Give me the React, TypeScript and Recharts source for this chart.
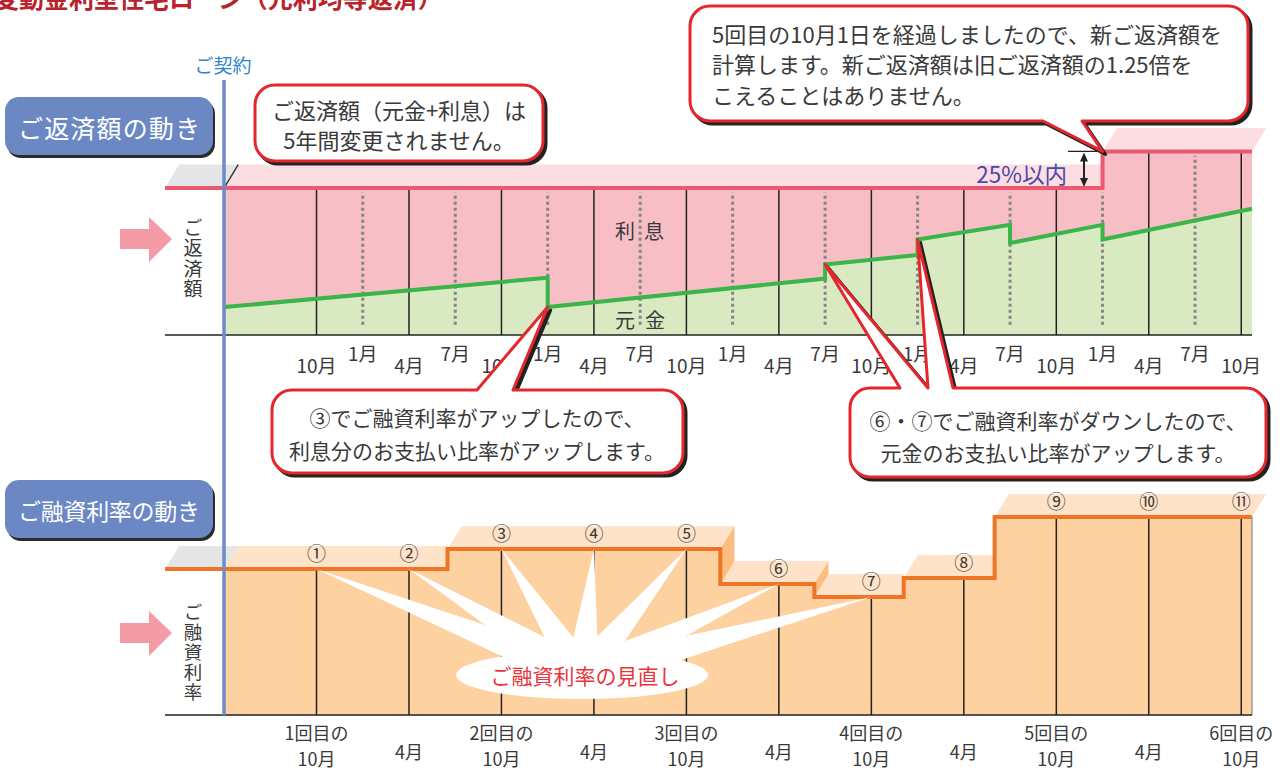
import React from "react";
import { ComposedChart, Area, Line, XAxis, YAxis, ReferenceLine, ReferenceDot } from "recharts";

const FONT = '"Noto Sans CJK JP", "Noto Sans", sans-serif';
const INK = "#3a3a3a";

// months counted from the contract (contract month = April)
const SPAN_START = -3.83;
const SPAN_END = 66.7;

// top axis: every 3 months
const QUARTER_MONTH = [6, 9, 12, 15, 18, 21, 24, 27, 30, 33, 36, 39, 42, 45, 48, 51, 54, 57, 60, 63, 66];
const QUARTER_LABEL = [
  "10月", "1月", "4月", "7月", "10月", "1月", "4月", "7月", "10月", "1月", "4月",
  "7月", "10月", "1月", "4月", "7月", "10月", "1月", "4月", "7月", "10月",
];

// rate reviews (April / October)
const REVIEW_MONTH = [6, 12, 18, 24, 30, 36, 42, 48, 54, 60, 66];
const REVIEW_MARK = ["①", "②", "③", "④", "⑤", "⑥", "⑦", "⑧", "⑨", "⑩", "⑪"];
const REVIEW_LABEL = [
  ["1回目の", "10月"], ["4月"], ["2回目の", "10月"], ["4月"], ["3回目の", "10月"], ["4月"],
  ["4回目の", "10月"], ["4月"], ["5回目の", "10月"], ["4月"], ["6回目の", "10月"],
];

// loan rate (%), stepped
const RATE_CHANGE_MONTH = [14.5, 32.2, 38.3, 44.1, 50.0];
const RATE_LEVEL = [1.46, 1.66, 1.31, 1.18, 1.37, 1.98];

// repayment amount (index, first 5 years = 100)
const PAY_CHANGE_MONTH = [57];
const PAY_LEVEL = [100, 125];

// principal part of the repayment
const PRINCIPAL_MONTH = [0, 21, 21, 39, 39, 45, 45, 51, 51, 57, 57, 66.7];
const PRINCIPAL_VALUE = [19, 39, 19, 38.4, 48, 54.5, 65, 75, 62.6, 75, 65, 86];

// ---- geometry of the two plots ----
const W = 1283;
const M_LEFT = 165;
const M_RIGHT = 14;
const X_MIN = -3.83;
const X_MAX = 67.8;
const TOP_T = 75;
const TOP_B = 335;
const BOT_T = 335;
const BOT_B = 715;
const PAY_MAX = 177;
const RATE_MAX = 3.8;
const SLANT = 0.92; // months, slant of the 3D top faces
const PAY_FACE = 16;
const RATE_FACE = 0.23;

const xPx = (m: number) => M_LEFT + ((m - X_MIN) / (X_MAX - X_MIN)) * (W - M_LEFT - M_RIGHT);
const payPx = (v: number) => TOP_B - (v / PAY_MAX) * (TOP_B - TOP_T);
const ratePx = (v: number) => BOT_B - (v / RATE_MAX) * (BOT_B - BOT_T);

function levelAt(m: number, changes: number[], levels: number[]) {
  let i = 0;
  while (i < changes.length && m >= changes[i]) i++;
  return levels[i];
}
const rateAt = (m: number) => levelAt(m, RATE_CHANGE_MONTH, RATE_LEVEL);
const payAt = (m: number) => levelAt(m, PAY_CHANGE_MONTH, PAY_LEVEL);

function stepPoints(from: number, to: number, changes: number[], levels: number[]) {
  const pts = [{ m: from, v: levelAt(from, changes, levels) }];
  changes.forEach((c, i) => {
    if (c > from && c < to) pts.push({ m: c, v: levels[i] }, { m: c, v: levels[i + 1] });
  });
  pts.push({ m: to, v: levelAt(to, changes, levels) });
  return pts;
}

function buildFaces(changes: number[], levels: number[], face: number) {
  const bounds = [0, ...changes, SPAN_END];
  const l0 = levels[0];
  const lead = [
    { m: SPAN_START, r: [l0, l0] },
    { m: SPAN_START + SLANT, r: [l0, l0 + face] },
    { m: 0, r: [l0, l0 + face] },
    { m: SLANT, r: [l0 + face, l0 + face] },
  ];
  const tops = levels.map((r, i) => {
    const a = bounds[i];
    const b = bounds[i + 1];
    const prev = levels[i - 1];
    const next = levels[i + 1];
    const pts: { m: number; r: number[] }[] = [];
    if (i === 0 || prev < r) pts.push({ m: a, r: [r, r] }, { m: a + SLANT, r: [r, r + face] });
    else pts.push({ m: a, r: [r, r + face] });
    if (next === undefined || next < r) pts.push({ m: b, r: [r, r + face] }, { m: b + SLANT, r: [r + face, r + face] });
    else pts.push({ m: b, r: [r, r + face] });
    return pts;
  });
  const sides = changes.flatMap((c, i) =>
    levels[i + 1] < levels[i]
      ? [[
          { m: c, r: [levels[i + 1], levels[i]] },
          { m: c + SLANT, r: [levels[i + 1] + face, levels[i] + face] },
        ]]
      : []
  );
  return { lead, tops, sides };
}

const payLine = stepPoints(SPAN_START, SPAN_END, PAY_CHANGE_MONTH, PAY_LEVEL);
const payFill = stepPoints(0, SPAN_END, PAY_CHANGE_MONTH, PAY_LEVEL);
const principal = PRINCIPAL_MONTH.map((m, i) => ({ m, v: PRINCIPAL_VALUE[i] }));
const payFaces = buildFaces(PAY_CHANGE_MONTH, PAY_LEVEL, PAY_FACE);

const rateLine = stepPoints(SPAN_START, SPAN_END, RATE_CHANGE_MONTH, RATE_LEVEL);
const rateFill = stepPoints(0, SPAN_END, RATE_CHANGE_MONTH, RATE_LEVEL);
const rateFaces = buildFaces(RATE_CHANGE_MONTH, RATE_LEVEL, RATE_FACE);

function QuarterTick(props: any) {
  const { x, y, payload } = props;
  const i = QUARTER_MONTH.indexOf(payload.value);
  const upper = i % 2 === 1;
  return (
    <text x={x} y={y + (upper ? 17.5 : 29)} textAnchor="middle" dominantBaseline="central"
      fontSize={19} fill={INK} fontFamily={FONT}>
      {QUARTER_LABEL[i]}
    </text>
  );
}

function ReviewTick(props: any) {
  const { x, y, payload } = props;
  const lines = REVIEW_LABEL[REVIEW_MONTH.indexOf(payload.value)];
  const common = { x, textAnchor: "middle" as const, dominantBaseline: "central" as const, fontSize: 18, fill: INK, fontFamily: FONT };
  if (lines.length === 1) return <text {...common} y={y + 36}>{lines[0]}</text>;
  return (
    <g>
      <text {...common} y={y + 16.5}>{lines[0]}</text>
      <text {...common} y={y + 43}>{lines[1]}</text>
    </g>
  );
}

function TopChart() {
  return (
    <ComposedChart width={W} height={400} margin={{ top: TOP_T, right: M_RIGHT, bottom: 25, left: M_LEFT }}>
      <XAxis type="number" dataKey="m" domain={[X_MIN, X_MAX]} ticks={QUARTER_MONTH} interval={0}
        tick={<QuarterTick />} axisLine={false} tickLine={false} tickSize={0} tickMargin={0} height={40} allowDataOverflow />
      <YAxis hide type="number" domain={[0, PAY_MAX]} allowDataOverflow />
      <Area data={payFaces.lead} dataKey="r" fill="#e4e5e7" fillOpacity={1} stroke="none" isAnimationActive={false} activeDot={false} />
      {payFaces.tops.map((d, i) => (
        <Area key={`pf${i}`} data={d} dataKey="r" fill="#fcdde1" fillOpacity={1} stroke="none" isAnimationActive={false} activeDot={false} />
      ))}
      <Area data={payFill} dataKey="v" fill="#f8bec6" fillOpacity={1} stroke="none" isAnimationActive={false} activeDot={false} />
      <Area data={principal} dataKey="v" fill="#d9eac3" fillOpacity={1} stroke="none" isAnimationActive={false} activeDot={false} />
      {QUARTER_MONTH.map((m, i) =>
        i % 2 === 0 ? (
          <ReferenceLine key={`s${m}`} segment={[{ x: m, y: 0 }, { x: m, y: payAt(m) }]} stroke="#222" strokeWidth={1.5} />
        ) : (
          <ReferenceLine key={`d${m}`} segment={[{ x: m, y: 7 }, { x: m, y: payAt(m - 1e-6) - 3 }]}
            stroke="#858585" strokeWidth={3} strokeDasharray="3 3" />
        )
      )}
      <ReferenceLine segment={[{ x: 0, y: PAY_LEVEL[0] }, { x: SLANT, y: PAY_LEVEL[0] + PAY_FACE }]} stroke="#333" strokeWidth={1.4} />
      <Line data={principal} dataKey="v" stroke="#3bb44a" strokeWidth={4} dot={false} isAnimationActive={false} activeDot={false} />
      <Line data={payLine} dataKey="v" stroke="#e95a70" strokeWidth={4} dot={false} isAnimationActive={false} activeDot={false} />
      <ReferenceLine segment={[{ x: SPAN_START, y: 0 }, { x: SPAN_END, y: 0 }]} stroke="#222" strokeWidth={1.5} />
      <ReferenceLine segment={[{ x: 0, y: 0 }, { x: 0, y: 173.6 }]} stroke="#6e8bc9" strokeWidth={3.5} />
    </ComposedChart>
  );
}

function BottomChart() {
  return (
    <ComposedChart width={W} height={771} margin={{ top: BOT_T, right: M_RIGHT, bottom: 0, left: M_LEFT }}>
      <XAxis type="number" dataKey="m" domain={[X_MIN, X_MAX]} ticks={REVIEW_MONTH} interval={0}
        tick={<ReviewTick />} axisLine={false} tickLine={false} tickSize={0} tickMargin={0} height={771 - BOT_B} allowDataOverflow />
      <YAxis hide type="number" domain={[0, RATE_MAX]} allowDataOverflow />
      <Area data={rateFaces.lead} dataKey="r" fill="#e4e5e7" fillOpacity={1} stroke="none" isAnimationActive={false} activeDot={false} />
      {rateFaces.tops.map((d, i) => (
        <Area key={`rf${i}`} data={d} dataKey="r" fill="#fee3c8" fillOpacity={1} stroke="none" isAnimationActive={false} activeDot={false} />
      ))}
      {rateFaces.sides.map((d, i) => (
        <Area key={`rs${i}`} data={d} dataKey="r" fill="#fbbe80" fillOpacity={1} stroke="none" isAnimationActive={false} activeDot={false} />
      ))}
      <Area data={rateFill} dataKey="v" fill="#fdd1a0" fillOpacity={1} stroke="none" isAnimationActive={false} activeDot={false} />
      {REVIEW_MONTH.map((m) => (
        <ReferenceLine key={`v${m}`} segment={[{ x: m, y: 0 }, { x: m, y: rateAt(m) }]} stroke="#222" strokeWidth={1.5} />
      ))}
      <ReferenceLine segment={[{ x: SPAN_END, y: 0 }, { x: SPAN_END, y: rateAt(SPAN_END) }]} stroke="#777" strokeWidth={1} />
      <Line data={rateLine} dataKey="v" stroke="#f07425" strokeWidth={4} dot={false} isAnimationActive={false} activeDot={false} />
      <ReferenceLine segment={[{ x: SPAN_START, y: 0 }, { x: SPAN_END, y: 0 }]} stroke="#222" strokeWidth={1.5} />
      <ReferenceLine x={0} stroke="#6e8bc9" strokeWidth={3.5} />
      {REVIEW_MONTH.map((m, i) => (
        <ReferenceDot key={`n${m}`} x={m} y={rateAt(m)} r={1} fill="none" stroke="none"
          shape={(p: any) => (
            <text x={p.cx} y={p.cy - 17} textAnchor="middle" dominantBaseline="central" fontSize={19} fill={INK} fontFamily={FONT}>
              {REVIEW_MARK[i]}
            </text>
          )} />
      ))}
    </ComposedChart>
  );
}

// ---- annotations ----
type Tail = { a: number; b: number; tip: [number, number] };

function bubblePath(x0: number, y0: number, x1: number, y1: number, r: number, top: Tail[], bottom: Tail[]) {
  let d = `M${x0 + r},${y0}`;
  top.forEach((t) => { d += ` L${t.a},${y0} L${t.tip[0]},${t.tip[1]} L${t.b},${y0}`; });
  d += ` L${x1 - r},${y0} A${r},${r} 0 0 1 ${x1},${y0 + r} L${x1},${y1 - r} A${r},${r} 0 0 1 ${x1 - r},${y1}`;
  [...bottom].reverse().forEach((t) => { d += ` L${t.b},${y1} L${t.tip[0]},${t.tip[1]} L${t.a},${y1}`; });
  d += ` L${x0 + r},${y1} A${r},${r} 0 0 1 ${x0},${y1 - r} L${x0},${y0 + r} A${r},${r} 0 0 1 ${x0 + r},${y0} Z`;
  return d;
}

const tipPay = (m: number, v: number): [number, number] => [xPx(m), payPx(v)];

const BUBBLES = [
  {
    box: [690, 6, 1248, 121], anchor: "start", tx: 712, ty: [33, 63, 94], fs: 22,
    lines: ["5回目の10月1日を経過しましたので、新ご返済額を", "計算します。新ご返済額は旧ご返済額の1.25倍を", "こえることはありません。"],
    top: [] as Tail[],
    bottom: [{ a: 1043, b: 1082, tip: tipPay(PAY_CHANGE_MONTH[0], PAY_LEVEL[1]) }],
  },
  {
    box: [255, 85, 543, 161], anchor: "middle", tx: 399, ty: [108.5, 139], fs: 22,
    lines: ["ご返済額（元金+利息）は", "5年間変更されません。"],
    top: [] as Tail[], bottom: [] as Tail[],
  },
  {
    box: [272, 390, 683, 473], anchor: "middle", tx: 477, ty: [417, 450], fs: 21,
    lines: ["③でご融資利率がアップしたので、", "利息分のお支払い比率がアップします。"],
    top: [{ a: 477, b: 513, tip: tipPay(PRINCIPAL_MONTH[2], PRINCIPAL_VALUE[2]) }],
    bottom: [] as Tail[],
  },
  {
    box: [850, 388, 1266, 477], anchor: "middle", tx: 1058, ty: [420, 452], fs: 21,
    lines: ["⑥・⑦でご融資利率がダウンしたので、", "元金のお支払い比率がアップします。"],
    top: [
      { a: 900, b: 928, tip: tipPay(PRINCIPAL_MONTH[4], PRINCIPAL_VALUE[4]) },
      { a: 928, b: 953, tip: tipPay(PRINCIPAL_MONTH[6], PRINCIPAL_VALUE[6]) },
    ],
    bottom: [] as Tail[],
  },
];

const BURST = { cx: 582, cy: 675, rx: 126, ry: 24 };

function Overlay() {
  const spikes = REVIEW_MONTH.slice(0, 7).map((m) => {
    const tx = xPx(m);
    const ty = ratePx(rateAt(m));
    const dx = BURST.cx - tx;
    const dy = BURST.cy - ty;
    const len = Math.hypot(dx, dy);
    const nx = (-dy / len) * 17;
    const ny = (dx / len) * 17;
    return `${tx},${ty} ${BURST.cx + nx},${BURST.cy + ny} ${BURST.cx - nx},${BURST.cy - ny}`;
  });
  const arrowX = 1084;
  const aTop = payPx(PAY_LEVEL[1]) + 1;
  const aBot = payPx(PAY_LEVEL[0]) - 1;
  const vertical = { writingMode: "vertical-rl" as const, letterSpacing: "1.5px" };

  return (
    <svg width={W} height={771} style={{ position: "absolute", left: 0, top: 0, pointerEvents: "none" }} fontFamily={FONT}>
      {/* cut-off title */}
      <text x={-6} y={8} fontSize={25} fontWeight="bold" fill="#b8232d">変動金利型住宅ローン（元利均等返済）</text>

      {/* section labels */}
      {[{ y: 97, t: "ご返済額の動き", fs: 25 }, { y: 480, t: "ご融資利率の動き", fs: 23 }].map((s) => (
        <g key={s.t}>
          <rect x={7} y={s.y + 3} width={208} height={58} rx={14} fill="#2b2b2b" />
          <rect x={5} y={s.y} width={208} height={58} rx={14} fill="#6b88c5" />
          <text x={109} y={s.y + 30} textAnchor="middle" dominantBaseline="central" fontSize={s.fs} fill="#fff"
            textLength={182} lengthAdjust="spacing">{s.t}</text>
        </g>
      ))}

      {/* pink arrows and vertical labels */}
      {[239, 633].map((cy) => (
        <polygon key={cy} fill="#f59ba6"
          points={`120,${cy - 10} 149,${cy - 10} 149,${cy - 22} 172,${cy} 149,${cy + 23} 149,${cy + 10} 120,${cy + 10}`} />
      ))}
      <text x={193} y={259} textAnchor="middle" fontSize={19} fill={INK} style={vertical}>ご返済額</text>
      <text x={193} y={653} textAnchor="middle" fontSize={18.5} fill={INK} style={vertical}>ご融資利率</text>

      <text x={223} y={64} textAnchor="middle" dominantBaseline="central" fontSize={19} fill="#2e86c8">ご契約</text>

      {/* area names */}
      <text x={625} y={230} textAnchor="middle" dominantBaseline="central" fontSize={20} fill={INK}>利</text>
      <text x={654} y={230} textAnchor="middle" dominantBaseline="central" fontSize={20} fill={INK}>息</text>
      <text x={625} y={319} textAnchor="middle" dominantBaseline="central" fontSize={20} fill={INK}>元</text>
      <text x={655} y={319} textAnchor="middle" dominantBaseline="central" fontSize={20} fill={INK}>金</text>

      {/* 25% limit */}
      <text x={1067} y={173} textAnchor="end" dominantBaseline="central" fontSize={22.5} fill="#4a48a8">25%以内</text>
      <line x1={1068} y1={payPx(PAY_LEVEL[1])} x2={1101} y2={payPx(PAY_LEVEL[1])} stroke="#222" strokeWidth={1.2} />
      <line x1={arrowX} y1={aTop + 6} x2={arrowX} y2={aBot - 6} stroke="#222" strokeWidth={2} />
      <polygon points={`${arrowX},${aTop} ${arrowX - 4},${aTop + 9} ${arrowX + 4},${aTop + 9}`} fill="#222" />
      <polygon points={`${arrowX},${aBot} ${arrowX - 4},${aBot - 9} ${arrowX + 4},${aBot - 9}`} fill="#222" />

      {/* rate review burst */}
      {spikes.map((p, i) => <polygon key={i} points={p} fill="#fff" />)}
      <ellipse cx={BURST.cx} cy={BURST.cy} rx={BURST.rx} ry={BURST.ry} fill="#fff" />
      <text x={BURST.cx + 3} y={BURST.cy} textAnchor="middle" dominantBaseline="central" fontSize={21} fill="#e8343b">ご融資利率の見直し</text>

      {/* callouts */}
      {BUBBLES.map((b, k) => {
        const d = bubblePath(b.box[0], b.box[1], b.box[2], b.box[3], 20, b.top, b.bottom);
        return (
          <g key={k}>
            <path d={d} transform="translate(3,3)" fill="#222" stroke="#222" strokeWidth={3} strokeLinejoin="round" />
            <path d={d} fill="#fff" stroke="#e4262d" strokeWidth={3} strokeLinejoin="round" />
            {b.lines.map((t, i) => (
              <text key={i} x={b.tx} y={b.ty[i]} textAnchor={b.anchor as any} dominantBaseline="central" fontSize={b.fs} fill={INK}>{t}</text>
            ))}
          </g>
        );
      })}
    </svg>
  );
}

export default function App() {
  return (
    <div style={{ position: "absolute", left: 0, top: 0, width: W, height: 771, overflow: "hidden", background: "#fff", fontFamily: FONT }}>
      <div style={{ position: "absolute", left: 0, top: 0 }}>
        <TopChart />
      </div>
      <div style={{ position: "absolute", left: 0, top: 0 }}>
        <BottomChart />
      </div>
      <Overlay />
    </div>
  );
}
